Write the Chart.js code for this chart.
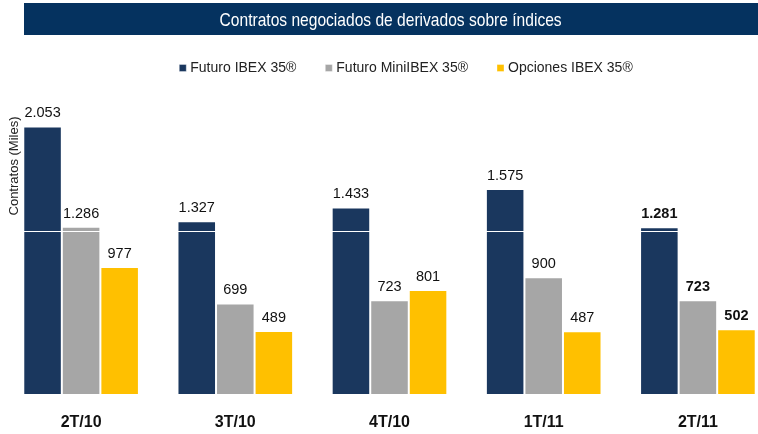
<!DOCTYPE html>
<html>
<head>
<meta charset="utf-8">
<script src="https://cdn.jsdelivr.net/npm/chart.js@4/dist/chart.umd.min.js"></script>
<style>
  html, body { margin: 0; padding: 0; background: #fff; width: 758px; height: 434px; overflow: hidden; }
  #wrap { position: relative; width: 758px; height: 434px; overflow: hidden; }
  #titulo {
    position: absolute; left: 24px; top: 3px; width: 734px; height: 32px;
    background: #05325f; color: #fff; text-align: center;
    font: 19px "Liberation Sans", Arial, sans-serif; line-height: 33px;
    z-index: 2;
  }
  #titulo span { display: inline-block; transform: scaleX(0.82); transform-origin: center; white-space: nowrap; }
  #caja { position: absolute; left: 0; top: 0; width: 780px; height: 434px; }
</style>
</head>
<body>
<div id="wrap">
  <div id="titulo"><span>Contratos negociados de derivados sobre índices</span></div>
  <div id="caja"><canvas id="grafico" width="780" height="434"></canvas></div>
</div>
<script>
var trimestres = ["2T/10", "3T/10", "4T/10", "1T/11", "2T/11"];
var futuroIbex = [2053, 1327, 1433, 1575, 1281];
var futuroMini = [1286, 699, 723, 900, 723];
var opcionesIbex = [977, 489, 801, 487, 502];
var lineasY = [0, 1250];

function miles(v) {
  return String(v).replace(/\B(?=(\d{3})+(?!\d))/g, ".");
}

// etiquetas de valor encima de cada barra
var etiquetas = {
  id: 'etiquetas',
  afterDatasetsDraw: function(chart) {
    var ctx = chart.ctx;
    ctx.save();
    ctx.fillStyle = '#111';
    ctx.textAlign = 'center';
    ctx.textBaseline = 'alphabetic';
    chart.data.datasets.forEach(function(ds, i) {
      var meta = chart.getDatasetMeta(i);
      meta.data.forEach(function(bar, j) {
        var bold = (j == trimestres.length - 1) ? 'bold ' : '';
        ctx.font = bold + '14.5px "Liberation Sans", Arial, sans-serif';
        ctx.fillText(miles(ds.data[j]), bar.x, bar.y - 9);
      });
    });
    ctx.restore();
  }
};

// titulo del eje y y desplazamiento de la leyenda
var ejeY = {
  id: 'ejeY',
  afterLayout: function(chart) {
    chart.legend.left += 18;
    chart.legend.right += 18;
  },
  afterDraw: function(chart) {
    var ctx = chart.ctx;
    ctx.save();
    ctx.translate(14, 166);
    ctx.rotate(-Math.PI / 2);
    ctx.font = '13px "Liberation Sans", Arial, sans-serif';
    ctx.fillStyle = '#222';
    ctx.textAlign = 'center';
    ctx.textBaseline = 'middle';
    ctx.fillText('Contratos (Miles)', 0, 0);
    ctx.restore();
  }
};

var ctx = document.getElementById('grafico').getContext('2d');
var grafico = new Chart(ctx, {
  type: 'bar',
  data: {
    labels: trimestres,
    datasets: [{
      label: 'Futuro IBEX 35®',
      data: futuroIbex,
      backgroundColor: '#1a375e',
      borderColor: 'rgba(255,255,255,0.35)',
      borderWidth: 1
    }, {
      label: 'Futuro MiniIBEX 35®',
      data: futuroMini,
      backgroundColor: '#a6a6a6',
      borderColor: 'rgba(255,255,255,0.35)',
      borderWidth: 1
    }, {
      label: 'Opciones IBEX 35®',
      data: opcionesIbex,
      backgroundColor: '#ffc000',
      borderColor: 'rgba(255,255,255,0.35)',
      borderWidth: 1
    }]
  },
  options: {
    responsive: false,
    animation: false,
    devicePixelRatio: 1,
    layout: { padding: { left: 4, right: 5, top: 29, bottom: -16 } },
    categoryPercentage: 0.75,
    barPercentage: 1.0,
    plugins: {
      legend: {
        position: 'top',
        labels: {
          usePointStyle: true,
          pointStyle: 'rect',
          boxWidth: 1,
          boxHeight: 7,
          padding: 32,
          color: '#222',
          font: { family: '"Liberation Sans", Arial, sans-serif', size: 14 }
        }
      },
      tooltip: { enabled: false }
    },
    scales: {
      x: {
        grid: { display: false, drawTicks: false },
        border: { display: false },
        ticks: {
          padding: 18,
          color: '#111',
          font: { family: '"Liberation Sans", Arial, sans-serif', size: 16, weight: 'bold' }
        }
      },
      y: {
        min: 0,
        max: 2370,
        grid: { color: '#ffffff', lineWidth: 1, drawTicks: false, z: 1 },
        border: { display: false },
        ticks: { display: false },
        afterBuildTicks: function(scale) {
          scale.ticks = lineasY.map(function(v) { return { value: v }; });
        }
      }
    }
  },
  plugins: [etiquetas, ejeY]
});
</script>
</body>
</html>
